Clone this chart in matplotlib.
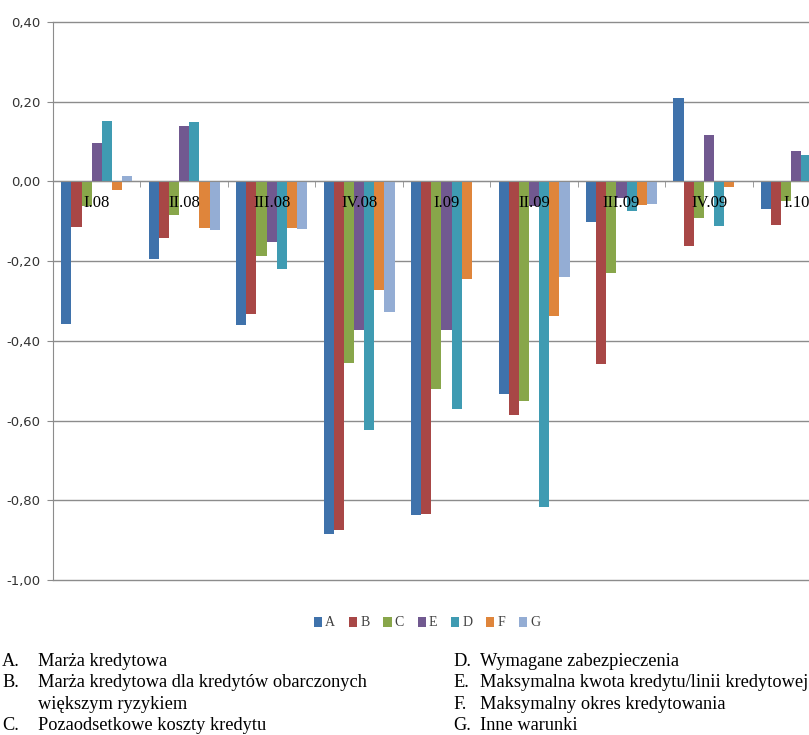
import numpy as np
import matplotlib
matplotlib.use("Agg")
from matplotlib import pyplot as plt
from matplotlib.ticker import FuncFormatter, FixedLocator

# Quarters on the horizontal axis
quarters = ["I.08", "II.08", "III.08", "IV.08", "I.09", "II.09", "III.09", "IV.09", "I.10"]

# One list per credit condition (series order as drawn: A, B, C, E, D, F, G)
A = [-0.357, -0.195, -0.360, -0.884, -0.838, -0.533, -0.101, 0.210, -0.069]
B = [-0.115, -0.141, -0.332, -0.874, -0.835, -0.585, -0.457, -0.163, -0.109]
C = [-0.062, -0.084, -0.186, -0.455, -0.521, -0.551, -0.230, -0.092, -0.048]
E = [0.097, 0.138, -0.153, -0.372, -0.372, -0.062, -0.041, 0.117, 0.077]
D = [0.151, 0.149, -0.219, -0.623, -0.570, -0.818, -0.073, -0.111, 0.066]
F = [-0.021, -0.117, -0.117, -0.272, -0.244, -0.337, -0.059, -0.015, 0.0]
G = [0.014, -0.123, -0.120, -0.328, 0.0, -0.241, -0.056, 0.0, 0.0]

series_names = ["A", "B", "C", "E", "D", "F", "G"]
series_vals = [A, B, C, E, D, F, G]
colors = ["#3F72AB", "#A84746", "#88A64A", "#715990", "#3F9BB2", "#DF853B", "#94ADD4"]

# Key printed under the chart
left_keys = ["A.", "B.", "", "C."]
left_texts = ["Marża kredytowa",
              "Marża kredytowa dla kredytów obarczonych",
              "większym ryzykiem",
              "Pozaodsetkowe koszty kredytu"]
right_keys = ["D.", "E.", "F.", "G."]
right_texts = ["Wymagane zabezpieczenia",
               "Maksymalna kwota kredytu/linii kredytowej",
               "Maksymalny okres kredytowania",
               "Inne warunki"]

serif = ["Liberation Serif", "DejaVu Serif"]

fig = plt.figure(figsize=(8.09, 7.35), dpi=100)
ax = fig.add_axes([0.0655, 0.2109, 0.973, 0.7592])

x = np.arange(len(quarters))
n = len(series_names)
bw = 0.116
for i, (name, vals, col) in enumerate(zip(series_names, series_vals, colors)):
    ax.bar(x + (i - (n - 1) / 2) * bw, vals, width=bw, color=col, label=name,
           zorder=3, linewidth=0)

ax.set_xlim(-0.5, len(quarters) - 0.5)
ax.set_ylim(-1.0, 0.4)
ax.set_yticks(np.arange(-1.0, 0.41, 0.2))
ax.yaxis.set_major_formatter(FuncFormatter(lambda v, p: ("%.2f" % v).replace(".", ",").replace("-0,00", "0,00")))
ax.grid(axis="y", color="#8c8c8c", linewidth=1.0, zorder=0)
for gl in ax.get_ygridlines():
    gl.set_clip_on(False)

# category axis sits on the zero line, labels drawn over the bars
for s in ["top", "right"]:
    ax.spines[s].set_visible(False)
ax.spines["bottom"].set_position(("data", 0))
ax.spines["bottom"].set_color("#8c8c8c")
ax.spines["bottom"].set_zorder(4)
ax.spines["left"].set_color("#8c8c8c")
ax.xaxis.set_zorder(5)

ax.set_xticks(x)
ax.set_xticklabels(quarters, fontsize=12, family=serif)
ax.xaxis.set_minor_locator(FixedLocator(np.arange(-0.5, len(quarters), 1.0)))
ax.tick_params(axis="x", which="major", length=0, pad=10)
ax.tick_params(axis="x", which="minor", length=4, color="#8c8c8c", direction="out")
ax.tick_params(axis="y", length=4, color="#8c8c8c", labelsize=9.5, labelcolor="#333333", pad=5)

leg = fig.legend(loc="center", bbox_to_anchor=(0.528, 1 - 623 / 735), ncol=7, frameon=False,
                 prop={"family": serif, "size": 10}, handlelength=0.6, handleheight=0.7,
                 handletextpad=0.2, columnspacing=1.0)
for t in leg.get_texts():
    t.set_color("#404040")

# key text
line_h = 21.6
for k in range(4):
    yy = 1 - (661 + k * line_h) / 735
    fig.text(2 / 809, yy, left_keys[k], family=serif, fontsize=13.2, va="center")
    fig.text(38 / 809, yy, left_texts[k], family=serif, fontsize=13.2, va="center")
    fig.text(453 / 809, yy, right_keys[k], family=serif, fontsize=13.2, va="center")
    fig.text(480 / 809, yy, right_texts[k], family=serif, fontsize=13.2, va="center")

fig.savefig("out.png", dpi=100)
